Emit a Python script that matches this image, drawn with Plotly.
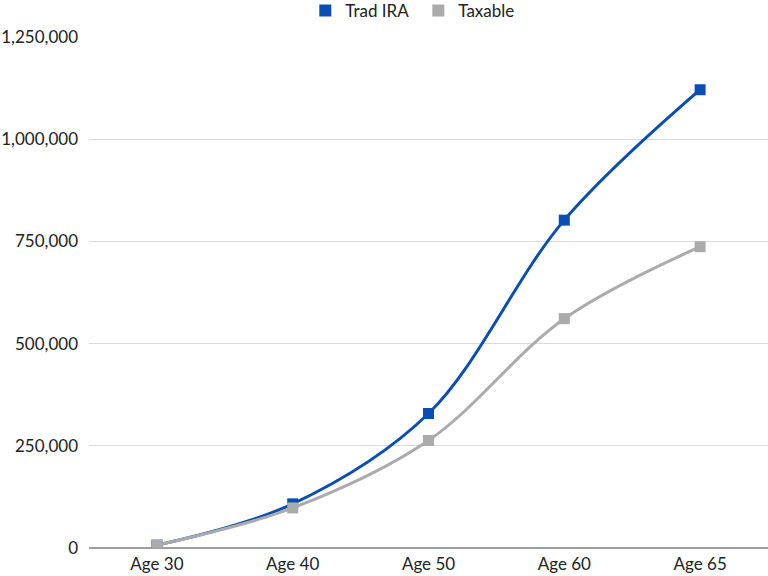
import plotly.graph_objects as go

ages = ["Age 30", "Age 40", "Age 50", "Age 60", "Age 65"]
trad_ira = [7000, 108000, 329000, 802000, 1121000]
taxable = [7000, 98000, 263000, 561000, 737000]
y_ticks = [0, 250000, 500000, 750000, 1000000, 1250000]

blue = "#0A4DB3"
gray = "#ABABAB"

fig = go.Figure()
fig.add_trace(go.Scatter(x=ages, y=trad_ira, mode="lines+markers", name="Trad IRA",
                         line=dict(color=blue, width=3, shape="spline", smoothing=1.0),
                         marker=dict(symbol="square", size=11, color=blue),
                         showlegend=False))
fig.add_trace(go.Scatter(x=ages, y=taxable, mode="lines+markers", name="Taxable",
                         line=dict(color=gray, width=3, shape="spline", smoothing=1.0),
                         marker=dict(symbol="square", size=11, color=gray),
                         showlegend=False))
# legend entries (markers only)
fig.add_trace(go.Scatter(x=[None], y=[None], mode="markers", name="Trad IRA",
                         marker=dict(symbol="square", size=9, color=blue)))
fig.add_trace(go.Scatter(x=[None], y=[None], mode="markers", name="Taxable",
                         marker=dict(symbol="square", size=9, color=gray)))

fig.update_layout(
    width=768, height=576,
    margin=dict(l=89, r=0, t=37, b=28, autoexpand=False),
    paper_bgcolor="white", plot_bgcolor="white",
    font=dict(family="Lato", size=17, color="#222222"),
    legend=dict(orientation="h", x=0.485, xanchor="center", y=1.051, yanchor="middle",
                yref="paper", font=dict(size=17), itemwidth=30,
                entrywidth=68, entrywidthmode="pixels",
                traceorder="normal", itemsizing="constant",
                bgcolor="rgba(0,0,0,0)"),
    showlegend=True,
)
fig.update_xaxes(type="category", range=[-0.5, 4.5], showgrid=False, ticks="",
                 showline=False, tickfont=dict(size=17), ticklabelstandoff=4)
fig.update_yaxes(range=[0, 1250000], tickvals=y_ticks, tickformat=",",
                 gridcolor="#D9D9D9", gridwidth=1, zeroline=True,
                 zerolinecolor="#9E9E9E", zerolinewidth=1.5, ticks="",
                 tickfont=dict(size=17), ticklabelstandoff=10)

fig.write_html("out.html")
